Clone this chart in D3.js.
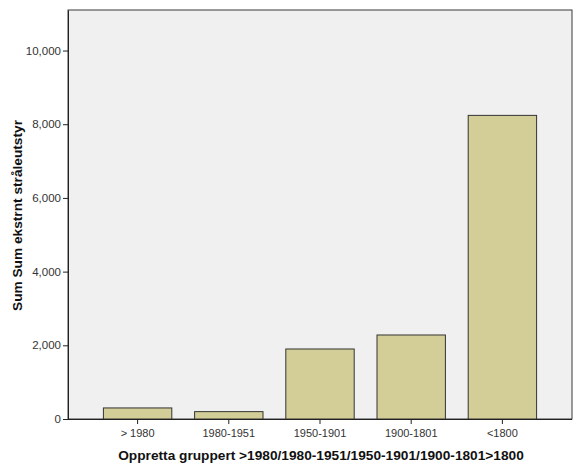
<!DOCTYPE html>
<html>
<head>
<meta charset="utf-8">
<script src="https://cdn.jsdelivr.net/npm/d3@7"></script>
<style>
  html, body { margin: 0; padding: 0; background: #ffffff; }
  svg { display: block; }
  text { font-family: "Liberation Sans", Arial, sans-serif; }
</style>
</head>
<body>
<div id="chart"></div>
<script>
// Sum of external radiation equipment by construction period
const categories = ["> 1980", "1980-1951", "1950-1901", "1900-1801", "<1800"];
const sums = [300, 200, 1900, 2280, 8240];
const yTicks = [0, 2000, 4000, 6000, 8000, 10000];
const yMax = 11100;
const xTitle = "Oppretta gruppert >1980/1980-1951/1950-1901/1900-1801>1800";
const yTitle = "Sum Sum ekstrnt stråleutstyr";

const width = 574, height = 466;
const plot = { left: 68, right: 572, top: 10, bottom: 419 };

const svg = d3.select("#chart").append("svg")
  .attr("width", width).attr("height", height);

const x = d3.scaleBand()
  .domain(categories)
  .range([plot.left + 24, plot.right - 24])
  .paddingInner(0.25)
  .paddingOuter(0.125);

const y = d3.scaleLinear()
  .domain([0, yMax])
  .range([plot.bottom, plot.top]);

// Plot background and frame
svg.append("rect")
  .attr("x", plot.left).attr("y", plot.top)
  .attr("width", plot.right - plot.left).attr("height", plot.bottom - plot.top)
  .attr("fill", "#f0f0f0")
  .attr("stroke", "#3a3a3a").attr("stroke-width", 1);

// Bars
svg.append("g").selectAll("rect")
  .data(categories.map((c, i) => ({ c, v: sums[i] })))
  .join("rect")
  .attr("x", d => x(d.c))
  .attr("y", d => y(d.v))
  .attr("width", x.bandwidth())
  .attr("height", d => y(0) - y(d.v))
  .attr("fill", "#d3ce98")
  .attr("stroke", "#333333")
  .attr("stroke-width", 1);

// Y axis
const yAxis = svg.append("g")
  .attr("transform", `translate(${plot.left},0)`)
  .call(d3.axisLeft(y).tickValues(yTicks).tickFormat(d3.format(","))
    .tickSize(5).tickSizeOuter(0).tickPadding(2));
yAxis.select(".domain").attr("stroke", "#222");
yAxis.selectAll(".tick line").attr("stroke", "#222");
yAxis.selectAll("text").attr("font-size", 11.5).attr("fill", "#333");

// X axis
const xAxis = svg.append("g")
  .attr("transform", `translate(0,${plot.bottom})`)
  .call(d3.axisBottom(x).tickSize(5).tickPadding(5).tickSizeOuter(0));
xAxis.select(".domain").attr("d", `M${plot.left - 5},0.5H${plot.right}`).attr("stroke", "#222");
xAxis.selectAll(".tick line").attr("stroke", "#222");
xAxis.selectAll("text").attr("font-size", 11).attr("fill", "#333");

// Axis titles
svg.append("text")
  .attr("x", (plot.left + plot.right) / 2 + 1)
  .attr("y", 460)
  .attr("text-anchor", "middle")
  .attr("font-size", 13.7).attr("font-weight", "bold").attr("fill", "#111")
  .text(xTitle);

svg.append("text")
  .attr("transform", `translate(22,${(plot.top + plot.bottom) / 2 + 1}) rotate(-90)`)
  .attr("text-anchor", "middle")
  .attr("font-size", 13.7).attr("font-weight", "bold").attr("fill", "#111")
  .text(yTitle);
</script>
</body>
</html>
